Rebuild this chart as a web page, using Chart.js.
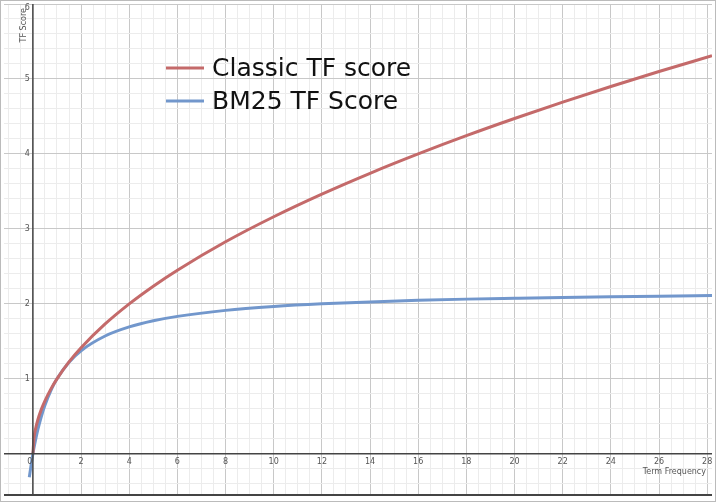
<!DOCTYPE html>
<html>
<head>
<meta charset="utf-8">
<script src="https://cdn.jsdelivr.net/npm/chart.js@4/dist/chart.umd.min.js"></script>
<style>
  html, body { margin: 0; padding: 0; background: #fff; }
  #wrap { width: 716px; height: 502px; }
</style>
</head>
<body>
<div id="wrap"><canvas id="chart" width="716" height="502"></canvas></div>
<script>
// values
const termFreq = [-0.15, 0, 0.05, 0.1, 0.2, 0.35, 0.5, 0.75, 1, 1.5, 2, 3, 4, 5, 6, 8, 10, 12, 14, 16, 18, 20, 22, 24, 26, 28.2];
const classicTf = [null, 0, 0.224, 0.316, 0.447, 0.592, 0.707, 0.866, 1, 1.225, 1.414, 1.732, 2, 2.236, 2.449, 2.828, 3.162, 3.464, 3.742, 4, 4.243, 4.472, 4.69, 4.899, 5.099, 5.31];
const bm25Tf = [-0.314, 0, 0.088, 0.169, 0.314, 0.497, 0.647, 0.846, 1, 1.222, 1.375, 1.571, 1.692, 1.774, 1.833, 1.913, 1.964, 2, 2.026, 2.047, 2.063, 2.075, 2.086, 2.095, 2.103, 2.11];
const xTickLabels = [0, 2, 4, 6, 8, 10, 12, 14, 16, 18, 20, 22, 24, 26, 28];
const yTickLabels = [1, 2, 3, 4, 5, 6];
const seriesNames = ['Classic TF score', 'BM25 TF Score'];

const RED = '#c46a6a';
const BLUE = '#7297cc';

function pts(ys) {
    return termFreq.map((x, i) => ({ x: x, y: ys[i] }));
}

// axes, tick labels, legend, frame
const decor = {
    id: 'decor',
    afterDraw(chart) {
        const ctx = chart.ctx;
        const xs = chart.scales.x, ys = chart.scales.y;
        const a = chart.chartArea;
        const x0 = xs.getPixelForValue(0), y0 = ys.getPixelForValue(0);
        ctx.save();
        ctx.strokeStyle = '#444';
        ctx.lineWidth = 1.5;
        ctx.beginPath();
        ctx.moveTo(a.left, y0); ctx.lineTo(a.right, y0);
        ctx.moveTo(x0, a.top); ctx.lineTo(x0, a.bottom);
        ctx.stroke();
        ctx.lineWidth = 2;
        ctx.beginPath();
        ctx.moveTo(a.left, a.bottom); ctx.lineTo(a.right, a.bottom);
        ctx.stroke();

        ctx.fillStyle = '#555';
        ctx.font = '8px "DejaVu Sans"';
        ctx.textAlign = 'center';
        ctx.textBaseline = 'top';
        xTickLabels.forEach(v => {
            ctx.fillText(String(v), xs.getPixelForValue(v) - (v === 0 ? 3 : 0), y0 + 4);
        });
        ctx.textAlign = 'right';
        ctx.textBaseline = 'middle';
        yTickLabels.forEach(v => {
            ctx.fillText(String(v), x0 - 3, ys.getPixelForValue(v) + (v === 6 ? 4 : 0));
        });
        ctx.textAlign = 'right';
        ctx.textBaseline = 'top';
        ctx.fillText('Term Frequency', a.right - 6, y0 + 14);
        ctx.save();
        ctx.translate(20, 8);
        ctx.rotate(-Math.PI / 2);
        ctx.fillText('TF Score', 0, 0);
        ctx.restore();

        // legend
        const colors = [RED, BLUE];
        ctx.font = '25px "DejaVu Sans"';
        ctx.textAlign = 'left';
        ctx.textBaseline = 'middle';
        seriesNames.forEach((n, i) => {
            const ly = 68 + i * 33;
            ctx.strokeStyle = colors[i];
            ctx.lineWidth = 3;
            ctx.beginPath();
            ctx.moveTo(166, ly); ctx.lineTo(204, ly);
            ctx.stroke();
            ctx.fillStyle = '#111';
            ctx.fillText(n, 212, ly + 1);
        });

        ctx.strokeStyle = '#bbb';
        ctx.lineWidth = 1;
        ctx.strokeRect(0.5, 0.5, chart.width - 1, chart.height - 1);
        ctx.restore();
    }
};

new Chart(document.getElementById('chart').getContext('2d'), {
    type: 'line',
    data: {
        datasets: [
            { label: seriesNames[0], data: pts(classicTf), borderColor: RED, borderWidth: 3, pointRadius: 0, cubicInterpolationMode: 'monotone', spanGaps: false },
            { label: seriesNames[1], data: pts(bm25Tf), borderColor: BLUE, borderWidth: 3, pointRadius: 0, cubicInterpolationMode: 'monotone' }
        ]
    },
    options: {
        responsive: false,
        animation: false,
        layout: { padding: { left: 4, right: 4, top: 4, bottom: 7 } },
        plugins: { legend: { display: false }, tooltip: { enabled: false } },
        scales: {
            x: {
                type: 'linear', min: -1.2, max: 28.2,
                border: { display: false },
                ticks: { display: false, stepSize: 0.5 },
                afterBuildTicks(s) {
                    const t = [];
                    for (let v = -1; v <= 28.01; v += 0.5) t.push({ value: v });
                    s.ticks = t;
                },
                grid: {
                    drawTicks: false,
                    color: c => (Math.abs(c.tick.value % 2) < 1e-6 ? '#c8c8c8' : '#ececec'),
                    lineWidth: 1
                }
            },
            y: {
                type: 'linear', min: -0.55, max: 6,
                border: { display: false },
                ticks: { display: false },
                afterBuildTicks(s) {
                    const t = [];
                    for (let k = -2; k <= 30; k++) t.push({ value: k * 0.2 });
                    s.ticks = t;
                },
                grid: {
                    drawTicks: false,
                    color: c => (Math.abs(Math.round(c.tick.value * 5) % 5) === 0 ? '#c8c8c8' : '#ececec'),
                    lineWidth: 1
                }
            }
        }
    },
    plugins: [decor]
});
</script>
</body>
</html>
